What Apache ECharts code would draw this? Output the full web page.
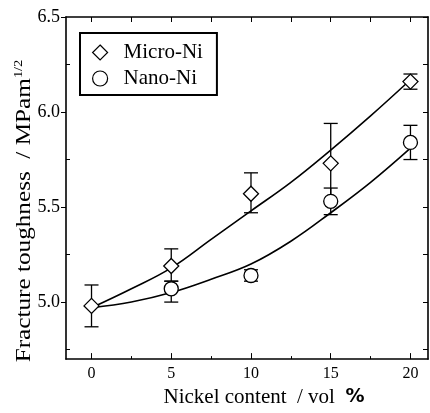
<!DOCTYPE html>
<html>
<head>
<meta charset="utf-8">
<script src="https://cdn.jsdelivr.net/npm/echarts@6/dist/echarts.min.js"></script>
<style>
  html, body { margin: 0; padding: 0; background: #fff; }
  #chart { width: 430px; height: 413px; }
</style>
</head>
<body>
<div id="chart"></div>
<script>
// nickel content (vol %)
var microX = [0, 5, 10, 15, 20];
var microY = [4.98, 5.19, 5.57, 5.73, 6.16];
var microLo = [4.87, 5.11, 5.47, 5.53, 6.12];
var microHi = [5.09, 5.28, 5.68, 5.94, 6.20];

var nanoX = [5, 10, 15, 20];
var nanoY = [5.07, 5.14, 5.53, 5.84];
var nanoLo = [5.00, 5.11, 5.46, 5.75];
var nanoHi = [5.11, 5.17, 5.60, 5.93];

// fitted curves
var fitX = [0, 2.5, 5, 7.5, 10, 12.5, 15, 17.5, 20];
var microFit = [4.97, 5.07, 5.18, 5.33, 5.48, 5.63, 5.80, 5.98, 6.17];
var nanoFit = [4.97, 5.00, 5.05, 5.12, 5.20, 5.32, 5.47, 5.63, 5.81];

var xMajor = [0, 5, 10, 15, 20];
var xMinor = [2.5, 7.5, 12.5, 17.5];
var yMajor = [5.0, 5.5, 6.0, 6.5];
var yMinor = [4.75, 5.25, 5.75, 6.25];

var font = '"Liberation Serif", "Times New Roman", serif';

function zip(xs, ys) {
    return xs.map(function (x, i) { return [x, ys[i]]; });
}
function zipErr(xs, lo, hi) {
    return xs.map(function (x, i) { return [x, lo[i], hi[i]]; });
}

var errRender = function (params, api) {
    var x = api.value(0);
    var lo = api.coord([x, api.value(1)]);
    var hi = api.coord([x, api.value(2)]);
    var w = 7;
    var st = { stroke: '#000', lineWidth: 1.3 };
    return {
        type: 'group',
        children: [
            { type: 'line', shape: { x1: lo[0], y1: lo[1], x2: hi[0], y2: hi[1] }, style: st },
            { type: 'line', shape: { x1: lo[0] - w, y1: lo[1], x2: lo[0] + w, y2: lo[1] }, style: st },
            { type: 'line', shape: { x1: hi[0] - w, y1: hi[1], x2: hi[0] + w, y2: hi[1] }, style: st }
        ]
    };
};

var chart = echarts.init(document.getElementById('chart'));

var xBase = { type: 'value', min: -1.6, max: 21.1, splitLine: { show: false } };
var yBase = { type: 'value', min: 4.7, max: 6.5, splitLine: { show: false } };
var line = { onZero: false, lineStyle: { color: '#000', width: 1.6 } };
var noLine = { show: false, onZero: false };

var option = {
    animation: false,
    backgroundColor: '#fff',
    grid: { left: 66, right: 2, top: 17, bottom: 43 },
    graphic: [{
        type: 'text',
        x: 24, y: 211,
        rotation: Math.PI / 2,
        scaleX: 1.2,
        style: {
            text: 'Fracture toughness  / MPam{s|1/2}',
            font: '21px ' + font,
            fill: '#000',
            align: 'center',
            verticalAlign: 'middle',
            rich: { s: { fontFamily: font, fontSize: 12, fill: '#000', verticalAlign: 'top', padding: [0, 0, 10, 0] } }
        }
    }],
    legend: {
        left: 80, top: 33,
        orient: 'vertical',
        data: [{ name: 'Micro-Ni', icon: 'diamond' }, { name: 'Nano-Ni', icon: 'circle' }],
        itemWidth: 15, itemHeight: 15,
        itemGap: 5,
        padding: [9, 14, 6, 12],
        borderColor: '#000', borderWidth: 2,
        itemStyle: { color: '#fff', borderColor: '#000', borderWidth: 1.2 },
        textStyle: { fontFamily: font, fontSize: 21, color: '#000', padding: [0, 0, 0, 11] }
    },
    xAxis: [
        Object.assign({}, xBase, {
            position: 'bottom',
            name: 'Nickel content  / vol  {b|%}',
            nameLocation: 'middle', nameGap: 23,
            nameTextStyle: { fontFamily: font, fontSize: 21, color: '#000', padding: [0, 0, 0, 34],
                rich: { b: { fontFamily: '"DejaVu Sans", sans-serif', fontWeight: 'bold', fontSize: 19, color: '#000' } } },
            axisLine: line,
            axisTick: { inside: true, length: 6, customValues: xMajor, lineStyle: { color: '#000' } },
            axisLabel: { customValues: xMajor, margin: 7, fontFamily: font, fontSize: 16, color: '#000' }
        }),
        Object.assign({}, xBase, {
            position: 'bottom',
            axisLine: noLine,
            axisTick: { inside: true, length: 3, customValues: xMinor, lineStyle: { color: '#000' } },
            axisLabel: { show: false }
        }),
        Object.assign({}, xBase, {
            position: 'top',
            axisLine: line,
            axisTick: { inside: true, length: 5, customValues: xMajor.concat(xMinor), lineStyle: { color: '#000' } },
            axisLabel: { show: false }
        })
    ],
    yAxis: [
        Object.assign({}, yBase, {
            position: 'left',
            axisLine: line,
            axisTick: { inside: false, length: 5, customValues: yMajor, lineStyle: { color: '#000' } },
            axisLabel: { customValues: yMajor, margin: 6, fontFamily: font, fontSize: 18, color: '#000',
                formatter: function (v) { return v.toFixed(1); } }
        }),
        Object.assign({}, yBase, {
            position: 'left',
            axisLine: noLine,
            axisTick: { inside: true, length: 4, customValues: yMinor, lineStyle: { color: '#000' } },
            axisLabel: { show: false }
        }),
        Object.assign({}, yBase, {
            position: 'right',
            axisLine: line,
            axisTick: { inside: true, length: 5, customValues: yMajor.concat(yMinor), lineStyle: { color: '#000' } },
            axisLabel: { show: false }
        })
    ],
    series: [
        {
            name: 'micro fit', type: 'line', smooth: 0.4, symbol: 'none', z: 2,
            data: zip(fitX, microFit),
            lineStyle: { color: '#000', width: 1.6 }
        },
        {
            name: 'nano fit', type: 'line', smooth: 0.4, symbol: 'none', z: 2,
            data: zip(fitX, nanoFit),
            lineStyle: { color: '#000', width: 1.6 }
        },
        {
            name: 'micro err', type: 'custom', z: 3,
            renderItem: errRender,
            encode: { x: 0, y: [1, 2] },
            data: zipErr(microX, microLo, microHi)
        },
        {
            name: 'nano err', type: 'custom', z: 3,
            renderItem: errRender,
            encode: { x: 0, y: [1, 2] },
            data: zipErr(nanoX, nanoLo, nanoHi)
        },
        {
            name: 'Micro-Ni', type: 'scatter', symbol: 'diamond', symbolSize: 15, z: 5,
            data: zip(microX, microY),
            itemStyle: { color: '#fff', borderColor: '#000', borderWidth: 1.3, opacity: 1 }
        },
        {
            name: 'Nano-Ni', type: 'scatter', symbol: 'circle', symbolSize: 14, z: 5,
            data: zip(nanoX, nanoY),
            itemStyle: { color: '#fff', borderColor: '#000', borderWidth: 1.3, opacity: 1 }
        }
    ]
};

chart.setOption(option);
</script>
</body>
</html>
